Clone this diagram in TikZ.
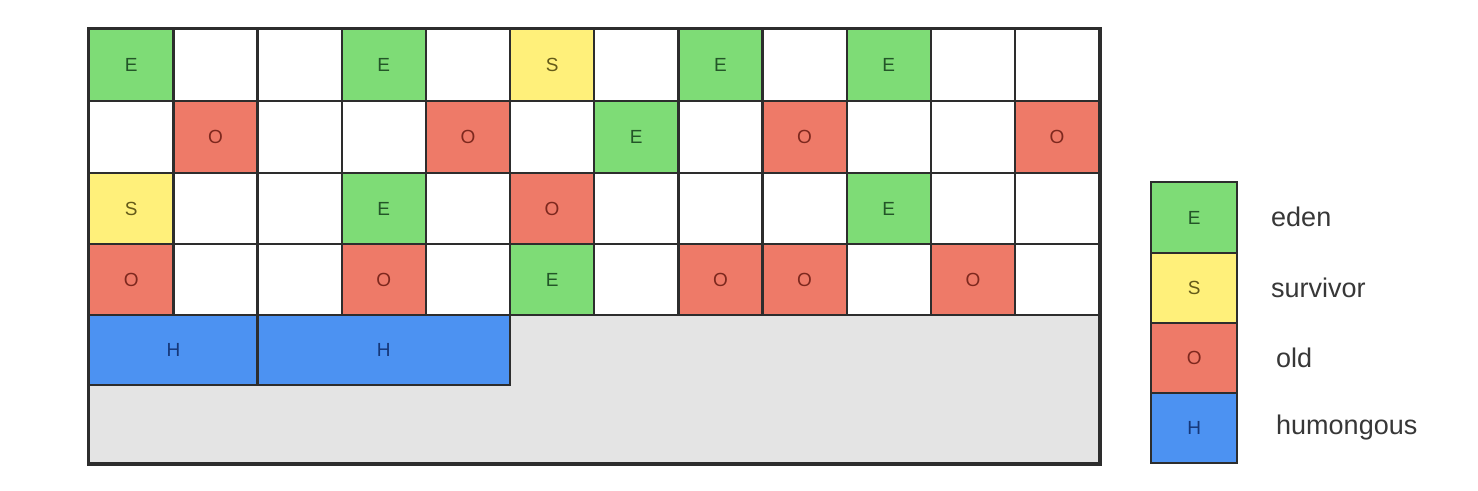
\documentclass[tikz,border=0pt]{standalone}
\usepackage{fontspec}
\setmainfont{Liberation Sans}
\definecolor{eg}{RGB}{126,220,118}
\definecolor{egt}{RGB}{35,85,40}
\definecolor{sy}{RGB}{255,240,122}
\definecolor{syt}{RGB}{100,90,25}
\definecolor{or}{RGB}{238,122,104}
\definecolor{ort}{RGB}{125,40,30}
\definecolor{hb}{RGB}{76,146,242}
\definecolor{hbt}{RGB}{22,55,120}
\definecolor{bg}{RGB}{228,228,228}
\definecolor{bd}{RGB}{45,45,45}
\definecolor{lbl}{RGB}{55,55,55}
\def\txtE{E}\def\txtS{S}\def\txtO{O}\def\txtW{}
\begin{document}
\begin{tikzpicture}[x=1pt,y=-1pt,
  cell/.style={draw=bd,line width=2.4pt,anchor=north west,inner sep=0pt,
    minimum width=84.17pt,font=\fontsize{19}{19}\selectfont},
  kE/.style={fill=eg,text=egt},
  kS/.style={fill=sy,text=syt},
  kO/.style={fill=or,text=ort},
  kW/.style={fill=white},
  kH/.style={fill=hb,text=hbt},
  lab/.style={anchor=west,text=lbl,font=\fontsize{27}{27}\selectfont,inner sep=0pt}]
\useasboundingbox (0,0) rectangle (1478,490);
\fill[white] (0,0) rectangle (1478,490);
% heap background
\node[draw=bd,fill=bg,line width=2.4pt,anchor=north west,inner sep=0pt,
  minimum width=1010pt,minimum height=434pt] (heap) at (88,28) {};
% regular regions
\foreach \r/\y/\h/\list in {
  0/28/72/{E,W,W,E,W,S,W,E,W,E,W,W},
  1/100/72/{W,O,W,W,O,W,E,W,O,W,W,O},
  2/172/71/{S,W,W,E,W,O,W,W,W,E,W,W},
  3/243/71/{O,W,W,O,W,E,W,O,O,W,O,W}}{
  \foreach \k [count=\c from 0] in \list {
    \node[cell,k\k,minimum height=\h pt] (c-\r-\c) at ({88+84.1667*\c},\y) {\csname txt\k\endcsname};
  }
}
% humongous regions
\node[cell,kH,minimum width=168.33pt,minimum height=70pt] (h1) at (88,314) {H};
\node[cell,kH,minimum width=252.5pt,minimum height=70pt] (h2) at (256.33,314) {H};
% outer border
\draw[bd,line width=2.4pt] (heap.north west) rectangle (heap.south east);
% legend
\node[cell,kE,minimum width=86pt,minimum height=71pt] (lE) at (1150,181) {E};
\node[cell,kS,minimum width=86pt,minimum height=70pt] (lS) at (1150,252) {S};
\node[cell,kO,minimum width=86pt,minimum height=70pt] (lO) at (1150,322) {O};
\node[cell,kH,minimum width=86pt,minimum height=70pt] (lH) at (1150,392) {H};
\node[lab] (tE) at (1271,217) {eden};
\node[lab] (tS) at (1271,288) {survivor};
\node[lab] (tO) at (1276,358) {old};
\node[lab] (tH) at (1276,428) {humongous};
\end{tikzpicture}
\end{document}
